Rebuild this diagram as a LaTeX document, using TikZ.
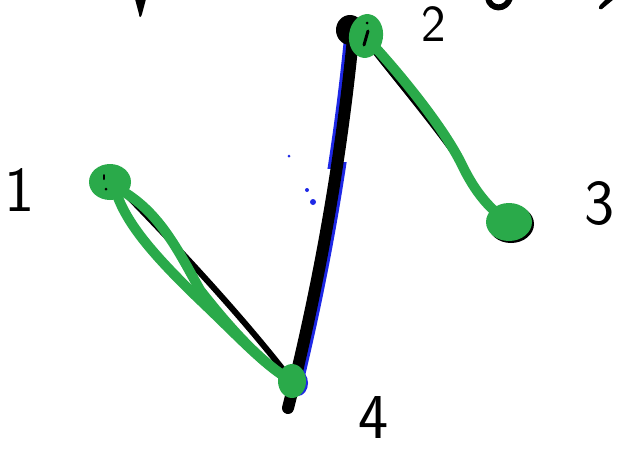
\documentclass[tikz,border=0pt]{standalone}
\definecolor{pen}{RGB}{42,170,74}
\definecolor{ink}{RGB}{0,0,0}
\definecolor{bpen}{RGB}{30,40,230}
\tikzset{
  blk/.style={draw=ink, line cap=round, line join=round},
  grn/.style={draw=pen, line width=10, line cap=round, line join=round},
  blu/.style={draw=bpen, line cap=round},
  dot/.style={ellipse, fill=pen, inner sep=0pt},
  lbl/.style={font=\sffamily\fontsize{64}{64}\selectfont, inner sep=0pt}
}
\usetikzlibrary{shapes.geometric}
\begin{document}
\begin{tikzpicture}[x=1pt,y=-1pt]
\useasboundingbox (0,0) rectangle (631,451);
\fill[white] (0,0) rectangle (631,451);
% anchor coordinates
\coordinate (c1) at (110,182);
\coordinate (c2) at (366,36);
\coordinate (c3) at (509,222);
\coordinate (c4) at (292,381);
\coordinate (b4) at (288,408);
\coordinate (b2) at (354,28);
% blue strokes beside the 4-2 line (drawn first, black covers most of them)
\begin{scope}
  \clip (0,162) rectangle (631,392);
  \draw[blu, line width=12] ([xshift=3]b4) .. controls (323,281) and (345,155) .. ([xshift=3]b2);
\end{scope}
\begin{scope}
  \clip (0,42) rectangle (631,168);
  \draw[blu, line width=12] ([xshift=-3]b4) .. controls (317,281) and (339,155) .. ([xshift=-3]b2);
\end{scope}
% black strokes
\draw[blk, line width=6] (122,190) .. controls (185,255) and (245,320) .. (c4);
\draw[blk, line width=12] (b4) .. controls (320,281) and (342,155) .. (b2);
\fill[ink] (350,30) ellipse [x radius=14, y radius=15];
\draw[blk, line width=5] (370,46) .. controls (395,78) and (430,120) .. (455,155);
\fill[ink] (511,224) ellipse [x radius=23, y radius=19];
% blue specks
\fill[bpen] (289,156) circle (1.5);
\fill[bpen] (307,190) circle (2);
\fill[bpen] (313,202) circle (3);
\fill[bpen] (298,383) ellipse [x radius=10, y radius=13];
% green strokes
\draw[grn] (116,192) .. controls (126,222) and (150,252) .. (200,300)
           .. controls (240,338) and (265,366) .. (c4);
\draw[grn] (124,192) .. controls (160,214) and (178,250) .. (200,290)
           .. controls (236,336) and (266,366) .. (c4);
\draw[grn] (374,46) .. controls (405,80) and (445,130) .. (462,165)
           .. controls (475,192) and (490,210) .. (c3);
% green dots (nodes)
\node[dot, minimum width=42, minimum height=36] (n1) at (c1) {};
\node[dot, minimum width=34, minimum height=44, rotate=-8] (n2) at (c2) {};
\node[dot, minimum width=46, minimum height=38] (n3) at (c3) {};
\node[dot, minimum width=28, minimum height=34] (n4) at (c4) {};
% tiny marks inside dots
\draw[blk, line width=2] (104,175) -- (104,179);
\fill[ink] (106,189) circle (1.5);
\draw[blk, line width=3] (368,31) -- (364,45);
\fill[ink] (367,23) circle (1.5);
% labels
\node[lbl] (l1) at (20,190) {1};
\node[lbl, font=\sffamily\fontsize{52}{52}\selectfont] (l2) at (434,24) {2};
\node[lbl] (l3) at (600,203) {3};
\node[lbl] (l4) at (374,417) {4};
% partial strokes at the top edge
\fill[ink] (135,-1) -- (146,-1) -- (142,14) .. controls (141,18) and (139,18) .. (139,14) -- cycle;
\draw[blk, line width=6] (488,-2) .. controls (490,10) and (506,11) .. (510,-2);
\fill[ink] (606,-1) -- (614,-1) -- (602,9) .. controls (599,10) and (598,8) .. (600,5) -- cycle;
\end{tikzpicture}
\end{document}
